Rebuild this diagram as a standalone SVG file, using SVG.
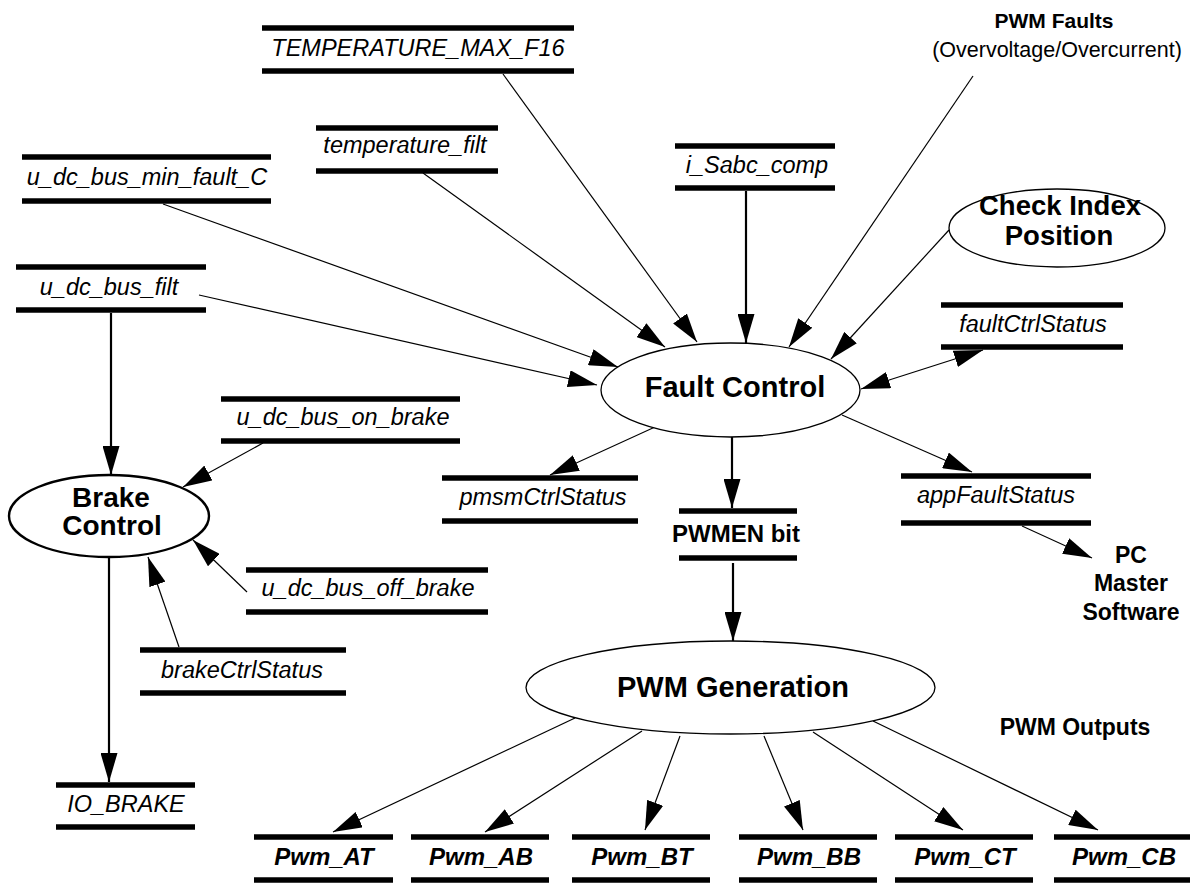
<svg xmlns="http://www.w3.org/2000/svg" width="1190" height="883" viewBox="0 0 1190 883">
<defs>
<marker id="ah" viewBox="0 0 29 17" refX="29" refY="8.5" markerWidth="29" markerHeight="17" markerUnits="userSpaceOnUse" orient="auto-start-reverse">
<path d="M0,0 L29,8.5 L0,17 z" fill="#000"/>
</marker>
</defs>
<style>
.bar{stroke:#000;stroke-width:5.5;fill:none}
.lbl{font-family:"Liberation Sans",Arial,sans-serif;font-style:italic;font-size:23.5px;text-anchor:middle;fill:#000}
.pwm{font-family:"Liberation Sans",Arial,sans-serif;font-style:italic;font-weight:bold;font-size:24px;text-anchor:middle;fill:#000}
.proc{fill:#fff;stroke:#000;stroke-width:1.3}
.ptxt{font-family:"Liberation Sans",Arial,sans-serif;font-weight:bold;font-size:28px;text-anchor:middle;fill:#000}
.btxt{font-family:"Liberation Sans",Arial,sans-serif;font-weight:bold;font-size:23px;text-anchor:middle;fill:#000}
.c{stroke:#000;stroke-width:1.2;fill:none;marker-end:url(#ah)}
.ct{stroke:#000;stroke-width:2.2;fill:none;marker-end:url(#ah)}
</style>
<rect width="1190" height="883" fill="#fff"/>

<g id="connectors">
<line class="c" x1="503" y1="74" x2="697" y2="342"/>
<line class="c" x1="423" y1="173" x2="665" y2="347"/>
<line class="c" x1="163" y1="204" x2="618" y2="367"/>
<line class="c" x1="199" y1="295" x2="597" y2="385"/>
<line class="ct" x1="746" y1="191" x2="746" y2="343"/>
<line class="c" x1="973" y1="76" x2="789" y2="347"/>
<line class="c" x1="949" y1="230" x2="831" y2="359"/>
<line class="c" x1="861" y1="389" x2="983" y2="350" marker-start="url(#ah)"/>
<line class="c" x1="655" y1="427" x2="550" y2="475"/>
<line class="ct" x1="732" y1="437" x2="732" y2="508"/>
<line class="c" x1="842" y1="415" x2="972" y2="472"/>
<line class="c" x1="1022" y1="526" x2="1092" y2="558"/>
<line class="ct" x1="733" y1="563" x2="733" y2="641"/>
<line class="ct" x1="111" y1="313" x2="111" y2="475"/>
<line class="c" x1="263" y1="443" x2="183" y2="487"/>
<line class="c" x1="247" y1="592" x2="193" y2="540"/>
<line class="c" x1="179" y1="647" x2="148" y2="557"/>
<line class="ct" x1="109" y1="557" x2="109" y2="782"/>
<line class="c" x1="575" y1="718" x2="333" y2="832"/>
<line class="c" x1="642" y1="731" x2="485" y2="832"/>
<line class="c" x1="680" y1="736" x2="645" y2="830"/>
<line class="c" x1="764" y1="736" x2="803" y2="830"/>
<line class="c" x1="813" y1="732" x2="963" y2="830"/>
<line class="c" x1="873" y1="721" x2="1098" y2="830"/>
</g>

<g id="TEMPERATURE_MAX_F16">
<line class="bar" x1="262" y1="28" x2="574" y2="28"/>
<line class="bar" x1="262" y1="71" x2="574" y2="71"/>
<text class="lbl" x="418" y="56">TEMPERATURE_MAX_F16</text>
</g>
<g id="temperature_filt">
<line class="bar" x1="316" y1="128" x2="498" y2="128"/>
<line class="bar" x1="316" y1="171" x2="498" y2="171"/>
<text class="lbl" x="405" y="153">temperature_filt</text>
</g>
<g id="u_dc_bus_min_fault_C">
<line class="bar" x1="22" y1="157" x2="271" y2="157"/>
<line class="bar" x1="22" y1="201" x2="271" y2="201"/>
<text class="lbl" x="147" y="185">u_dc_bus_min_fault_C</text>
</g>
<g id="u_dc_bus_filt">
<line class="bar" x1="16" y1="267" x2="206" y2="267"/>
<line class="bar" x1="16" y1="310" x2="206" y2="310"/>
<text class="lbl" x="109" y="295">u_dc_bus_filt</text>
</g>
<g id="i_Sabc_comp">
<line class="bar" x1="675" y1="146" x2="835" y2="146"/>
<line class="bar" x1="675" y1="188" x2="835" y2="188"/>
<text class="lbl" x="757" y="173">i_Sabc_comp</text>
</g>
<g id="pwm_faults">
<text class="btxt" x="1054" y="28" style="font-size:21px">PWM Faults</text>
<text x="1057" y="57" style="font-family:'Liberation Sans',Arial,sans-serif;font-size:21.5px;text-anchor:middle">(Overvoltage/Overcurrent)</text>
</g>
<g id="check_index_position">
<ellipse class="proc" cx="1057" cy="228" rx="108" ry="39"/>
<text class="ptxt" x="1060" y="215" style="font-size:27.5px">Check Index</text>
<text class="ptxt" x="1059" y="245" style="font-size:27.5px">Position</text>
</g>
<g id="faultCtrlStatus">
<line class="bar" x1="941" y1="305" x2="1123" y2="305"/>
<line class="bar" x1="941" y1="347" x2="1123" y2="347"/>
<text class="lbl" x="1033" y="332">faultCtrlStatus</text>
</g>
<g id="fault_control">
<ellipse class="proc" cx="730.5" cy="390" rx="129.5" ry="47"/>
<text class="ptxt" x="735" y="397" style="font-size:29px">Fault Control</text>
</g>
<g id="pmsmCtrlStatus">
<line class="bar" x1="442" y1="478" x2="638" y2="478"/>
<line class="bar" x1="442" y1="521" x2="638" y2="521"/>
<text class="lbl" x="543" y="505">pmsmCtrlStatus</text>
</g>
<g id="pwmen_bit">
<line class="bar" x1="679" y1="511" x2="797" y2="511"/>
<line class="bar" x1="679" y1="558" x2="797" y2="558"/>
<text class="btxt" x="736" y="542" style="font-size:24px">PWMEN bit</text>
</g>
<g id="appFaultStatus">
<line class="bar" x1="901" y1="476" x2="1091" y2="476"/>
<line class="bar" x1="901" y1="523" x2="1091" y2="523"/>
<text class="lbl" x="996" y="503">appFaultStatus</text>
</g>
<g id="pc_master_software">
<text class="btxt" x="1131" y="563">PC</text>
<text class="btxt" x="1131" y="591">Master</text>
<text class="btxt" x="1131" y="620">Software</text>
</g>
<g id="u_dc_bus_on_brake">
<line class="bar" x1="221" y1="399" x2="460" y2="399"/>
<line class="bar" x1="221" y1="441" x2="460" y2="441"/>
<text class="lbl" x="343" y="425">u_dc_bus_on_brake</text>
</g>
<g id="brake_control">
<ellipse cx="109" cy="516" rx="100" ry="41" fill="#fff" stroke="#000" stroke-width="2.4"/>
<text class="ptxt" x="111" y="507">Brake</text>
<text class="ptxt" x="112" y="535">Control</text>
</g>
<g id="u_dc_bus_off_brake">
<line class="bar" x1="246" y1="570" x2="488" y2="570"/>
<line class="bar" x1="246" y1="612" x2="488" y2="612"/>
<text class="lbl" x="368" y="596">u_dc_bus_off_brake</text>
</g>
<g id="brakeCtrlStatus">
<line class="bar" x1="140" y1="650" x2="346" y2="650"/>
<line class="bar" x1="140" y1="693" x2="346" y2="693"/>
<text class="lbl" x="242" y="678">brakeCtrlStatus</text>
</g>
<g id="IO_BRAKE">
<line class="bar" x1="56" y1="785" x2="195" y2="785"/>
<line class="bar" x1="56" y1="827" x2="195" y2="827"/>
<text class="lbl" x="126" y="812">IO_BRAKE</text>
</g>
<g id="pwm_generation">
<ellipse class="proc" cx="730.5" cy="687.5" rx="204.5" ry="46.5"/>
<text class="ptxt" x="733" y="697" style="font-size:29px">PWM Generation</text>
</g>
<g id="pwm_outputs">
<text class="btxt" x="1075" y="735">PWM Outputs</text>
</g>
<g id="Pwm_AT">
<line class="bar" x1="254" y1="837" x2="393" y2="837"/>
<line class="bar" x1="254" y1="880" x2="393" y2="880"/>
<text class="pwm" x="324" y="865">Pwm_AT</text>
</g>
<g id="Pwm_AB">
<line class="bar" x1="411" y1="837" x2="549" y2="837"/>
<line class="bar" x1="411" y1="880" x2="549" y2="880"/>
<text class="pwm" x="481" y="865">Pwm_AB</text>
</g>
<g id="Pwm_BT">
<line class="bar" x1="572" y1="837" x2="710" y2="837"/>
<line class="bar" x1="572" y1="880" x2="710" y2="880"/>
<text class="pwm" x="642" y="865">Pwm_BT</text>
</g>
<g id="Pwm_BB">
<line class="bar" x1="739" y1="837" x2="877" y2="837"/>
<line class="bar" x1="739" y1="880" x2="877" y2="880"/>
<text class="pwm" x="809" y="865">Pwm_BB</text>
</g>
<g id="Pwm_CT">
<line class="bar" x1="895" y1="837" x2="1033" y2="837"/>
<line class="bar" x1="895" y1="880" x2="1033" y2="880"/>
<text class="pwm" x="965" y="865">Pwm_CT</text>
</g>
<g id="Pwm_CB">
<line class="bar" x1="1054" y1="837" x2="1190" y2="837"/>
<line class="bar" x1="1054" y1="880" x2="1190" y2="880"/>
<text class="pwm" x="1124" y="865">Pwm_CB</text>
</g>
</svg>
